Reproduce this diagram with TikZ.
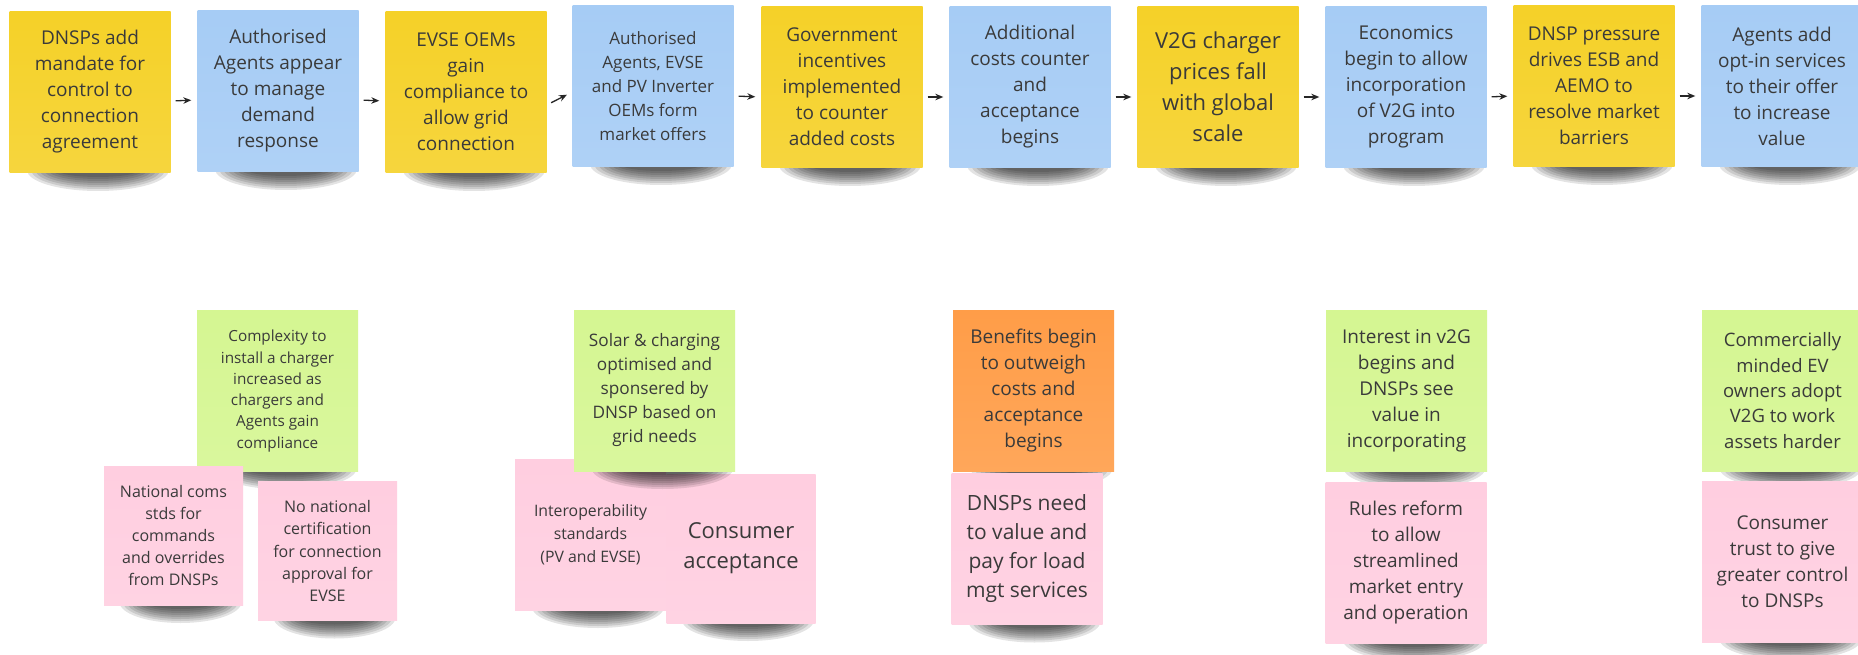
\documentclass[tikz,border=0pt]{standalone}
\usepackage{fontspec}
\setmainfont{Open Sans}
\usetikzlibrary{arrows.meta}

\definecolor{stickyyellow}{HTML}{F5D128}
\definecolor{stickyblue}{HTML}{A6CCF5}
\definecolor{stickygreen}{HTML}{D5F692}
\definecolor{stickyorange}{HTML}{FF9D48}
\definecolor{stickypink}{HTML}{FFCEE0}
\definecolor{stickytext}{HTML}{3A3A3A}

\begin{document}
\begin{tikzpicture}[x=1pt, y=-1pt, >={Stealth[length=8pt, width=6.5pt]}]
    \tikzset{
        sticky/.style={rectangle, inner sep=0pt, minimum size=#1, align=center, text=stickytext},
        sticky fill/.style={top color=#1, bottom color=#1!90!white},
        sticky font/.style args={#1:#2}{font=\fontsize{#1}{#2}\selectfont},
        % soft blob under each sticky, stacked faint ellipses
        sticky shadow/.pic={
            \foreach \k in {0,...,7}
                \fill[black, opacity=0.11] (0,0) ellipse [x radius={#1*(1-0.06*\k)}, y radius={21-2*\k}];
        },
        flow/.style={->, line width=1.3pt, black!85, shorten <=5pt, shorten >=6pt}
    }
    \fill[white] (0,0) rectangle (1858,655);
    \useasboundingbox (0,0) rectangle (1858,655);

    % top row
    \pic at (98,170) {sticky shadow=71};
    \node[sticky=161pt, sticky fill=stickyyellow, sticky font=19:26] (mandate) at (90,92) {DNSPs add\\mandate for\\control to\\connection\\agreement};
    \pic at (286,169) {sticky shadow=71};
    \node[sticky=161pt, sticky fill=stickyblue, sticky font=19:26] (agents) at (278,91) {Authorised\\Agents appear\\to manage\\demand\\response};
    \pic at (474,170) {sticky shadow=71};
    \node[sticky=161pt, sticky fill=stickyyellow, sticky font=19:26] (oems) at (466,92) {EVSE OEMs\\gain\\compliance to\\allow grid\\connection};
    \pic at (661,164) {sticky shadow=71};
    \node[sticky=161pt, sticky fill=stickyblue, sticky font=17:24] (offers) at (653,86) {Authorised\\Agents, EVSE\\and PV Inverter\\OEMs form\\market offers};
    \pic at (850,165) {sticky shadow=71};
    \node[sticky=161pt, sticky fill=stickyyellow, sticky font=19:26] (incentives) at (842,87) {Government\\incentives\\implemented\\to counter\\added costs};
    \pic at (1038,165) {sticky shadow=71};
    \node[sticky=161pt, sticky fill=stickyblue, sticky font=19:26] (costs) at (1030,87) {Additional\\costs counter\\and\\acceptance\\begins};
    \pic at (1226,165) {sticky shadow=71};
    \node[sticky=161pt, sticky fill=stickyyellow, sticky font=22:31] (prices) at (1218,87) {V2G charger\\prices fall\\with global\\scale};
    \pic at (1414,165) {sticky shadow=71};
    \node[sticky=161pt, sticky fill=stickyblue, sticky font=19:26] (economics) at (1406,87) {Economics\\begin to allow\\incorporation\\of V2G into\\program};
    \pic at (1602,164) {sticky shadow=71};
    \node[sticky=161pt, sticky fill=stickyyellow, sticky font=19:26] (pressure) at (1594,86) {DNSP pressure\\drives ESB and\\AEMO to\\resolve market\\barriers};
    \pic at (1790,164) {sticky shadow=71};
    \node[sticky=161pt, sticky fill=stickyblue, sticky font=19:26] (optin) at (1782,86) {Agents add\\opt-in services\\to their offer\\to increase\\value};

    \draw[flow] ([yshift=-9pt]mandate.east) -- ([yshift=-9pt]agents.west);
    \draw[flow] ([yshift=-9pt]agents.east) -- ([yshift=-9pt]oems.west);
    \draw[flow] ([yshift=-13pt]oems.east) -- ([yshift=-6pt]offers.west);
    \draw[flow] ([yshift=-10pt]offers.east) -- ([yshift=-10pt]incentives.west);
    \draw[flow] ([yshift=-10pt]incentives.east) -- ([yshift=-10pt]costs.west);
    \draw[flow] ([yshift=-10pt]costs.east) -- ([yshift=-10pt]prices.west);
    \draw[flow] ([yshift=-10pt]prices.east) -- ([yshift=-10pt]economics.west);
    \draw[flow] ([yshift=-10pt]economics.east) -- ([yshift=-10pt]pressure.west);
    \draw[flow] ([yshift=-10pt]pressure.east) -- ([yshift=-10pt]optin.west);

    % bottom clusters
    \pic at (285.5,468.5) {sticky shadow=71};
    \node[sticky=161pt, sticky fill=stickygreen, sticky font=15.3:21.3] (complexity) at (277.5,391) {Complexity to\\install a charger\\increased as\\chargers and\\Agents gain\\compliance};
    \pic at (180.5,602) {sticky shadow=61};
    \node[sticky=139pt, sticky fill=stickypink, sticky font=16:22] (coms) at (173.5,535.5) {National coms\\stds for\\commands\\and overrides\\from DNSPs};
    \pic at (334.5,617.5) {sticky shadow=61};
    \node[sticky=139pt, sticky fill=stickypink, sticky font=16:22.3] (certification) at (327.5,551) {No national\\certification\\for connection\\approval for\\EVSE};

    \pic at (598,607) {sticky shadow=66};
    \node[sticky=151pt, sticky fill=stickypink, sticky font=15.8:23] (interop) at (590.5,534.5) {Interoperability\\standards\\(PV and EVSE)};
    \pic at (748,620) {sticky shadow=66};
    \node[sticky=149pt, sticky fill=stickypink, sticky font=22:30] (acceptance) at (741,548.5) {Consumer\\acceptance};
    \pic at (662.5,468) {sticky shadow=71};
    \node[sticky=161pt, sticky fill=stickygreen, sticky font=17.2:24] (solar) at (654.5,390.5) {Solar \& charging\\optimised and\\sponsered by\\DNSP based on\\grid needs};

    \pic at (1041.5,468.5) {sticky shadow=71};
    \node[sticky=161pt, sticky fill=stickyorange, sticky font=19:26] (benefits) at (1033.5,391) {Benefits begin\\to outweigh\\costs and\\acceptance\\begins};
    \pic at (1034.5,621.5) {sticky shadow=66};
    \node[sticky=151pt, sticky fill=stickypink, sticky font=21:29] (loadmgt) at (1027,549) {DNSPs need\\to value and\\pay for load\\mgt services};

    \pic at (1414.5,468) {sticky shadow=71};
    \node[sticky=161pt, sticky fill=stickygreen, sticky font=19:26] (interest) at (1406.5,390.5) {Interest in v2G\\begins and\\DNSPs see\\value in\\incorporating};
    \pic at (1414,640) {sticky shadow=71};
    \node[sticky=161pt, sticky fill=stickypink, sticky font=19:26] (rules) at (1406,562.5) {Rules reform\\to allow\\streamlined\\market entry\\and operation};

    \pic at (1790.5,468) {sticky shadow=71};
    \node[sticky=161pt, sticky fill=stickygreen, sticky font=18.5:25.3] (commercial) at (1782.5,390.5) {Commercially\\minded EV\\owners adopt\\V2G to work\\assets harder};
    \pic at (1790.5,639) {sticky shadow=71};
    \node[sticky=161pt, sticky fill=stickypink, sticky font=19:26] (trust) at (1782.5,561.5) {Consumer\\trust to give\\greater control\\to DNSPs};
\end{tikzpicture}
\end{document}
